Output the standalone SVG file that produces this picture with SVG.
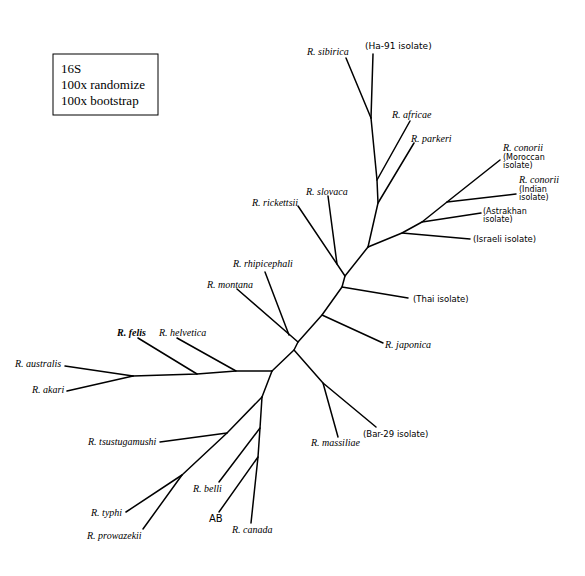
<svg xmlns="http://www.w3.org/2000/svg" width="585" height="576" viewBox="0 0 585 576">
<style>
.e{fill:none;stroke:#000;stroke-width:1.5;stroke-linecap:round;stroke-linejoin:round}
.i{font-family:"Liberation Serif","Times New Roman",serif;font-style:italic;font-size:10px;fill:#000}
.s{font-family:"DejaVu Sans","Liberation Sans",sans-serif;font-size:8.5px;fill:#000}
.t{font-family:"DejaVu Sans","Liberation Sans",sans-serif;font-size:8px;fill:#000}
.b{font-family:"Liberation Serif","Times New Roman",serif;font-size:13px;fill:#000}
</style>
<rect x="0" y="0" width="585" height="576" fill="#fff"/>
<g id="legend">
<rect x="53" y="54" width="105" height="61" fill="#fff" stroke="#000" stroke-width="1"/>
<text class="b" x="61" y="73">16S</text>
<text class="b" x="61" y="89">100x randomize</text>
<text class="b" x="61" y="105">100x bootstrap</text>
</g>
<g id="connectors">
<path class="e" d="M373,54 L371,118"/>
<path class="e" d="M346,58 L371,118"/>
<path class="e" d="M371,118 L377,180 L378,203 L368,247"/>
<path class="e" d="M410,121 L377,180"/>
<path class="e" d="M414,143 L378,203"/>
<path class="e" d="M368,247 L402,233 L422,222 L447,202 L500,160"/>
<path class="e" d="M402,233 L470,239"/>
<path class="e" d="M422,222 L481,213"/>
<path class="e" d="M447,202 L516,194"/>
<path class="e" d="M368,247 L345,276 L342,287 L322,315 L298,342 L294,350 L272,371"/>
<path class="e" d="M298,206 L345,276"/>
<path class="e" d="M328,196 L337,264"/>
<path class="e" d="M342,287 L408,298"/>
<path class="e" d="M322,315 L383,343"/>
<path class="e" d="M237,289 L298,342"/>
<path class="e" d="M265,272 L289,335"/>
<path class="e" d="M294,350 L323,383 L376,427"/>
<path class="e" d="M323,383 L338,437"/>
<path class="e" d="M272,371 L236,371 L197,374 L133,376"/>
<path class="e" d="M177,338 L236,371"/>
<path class="e" d="M138,338 L197,374"/>
<path class="e" d="M65,366 L133,376"/>
<path class="e" d="M67,391 L133,376"/>
<path class="e" d="M272,371 L262,397"/>
<path class="e" d="M262,397 L227,433 L182,475 L126,512"/>
<path class="e" d="M143,529 L182,475"/>
<path class="e" d="M160,442 L227,433"/>
<path class="e" d="M262,397 L260,428 L258,457 L251,523"/>
<path class="e" d="M219,482 L260,428"/>
<path class="e" d="M219,512 L258,457"/>
</g>
<g id="n-sibirica"><text class="i" x="307" y="55">R. sibirica</text></g>
<g id="n-ha91"><text class="s" x="365" y="49" style="font-size:9px">(Ha-91 isolate)</text></g>
<g id="n-africae"><text class="i" x="392" y="118">R. africae</text></g>
<g id="n-parkeri"><text class="i" x="411" y="142">R. parkeri</text></g>
<g id="n-moroccan"><text x="503" y="151"><tspan class="i">R. conorii</tspan><tspan class="t" x="503" y="159.5">(Moroccan</tspan><tspan class="t" x="503" y="167.5">isolate)</tspan></text></g>
<g id="n-indian"><text x="519" y="183"><tspan class="i">R. conorii</tspan><tspan class="t" x="519" y="191.5">(Indian</tspan><tspan class="t" x="519" y="199.5">isolate)</tspan></text></g>
<g id="n-astrakhan"><text class="t" x="483" y="214">(Astrakhan<tspan x="483" y="222">isolate)</tspan></text></g>
<g id="n-israeli"><text class="s" x="473" y="242">(Israeli isolate)</text></g>
<g id="n-slovaca"><text class="i" x="306" y="195">R. slovaca</text></g>
<g id="n-rickettsii"><text class="i" x="252" y="206">R. rickettsii</text></g>
<g id="n-thai"><text class="s" x="413" y="302">(Thai isolate)</text></g>
<g id="n-japonica"><text class="i" x="385" y="348">R. japonica</text></g>
<g id="n-rhipicephali"><text class="i" x="233" y="267">R. rhipicephali</text></g>
<g id="n-montana"><text class="i" x="207" y="288">R. montana</text></g>
<g id="n-felis"><text class="i" x="117" y="336" style="font-weight:bold">R. felis</text></g>
<g id="n-helvetica"><text class="i" x="159" y="336">R. helvetica</text></g>
<g id="n-australis"><text class="i" x="15" y="367">R. australis</text></g>
<g id="n-akari"><text class="i" x="32" y="393">R. akari</text></g>
<g id="n-massiliae"><text class="i" x="311" y="446">R. massiliae</text></g>
<g id="n-bar29"><text class="s" x="363" y="437">(Bar-29 isolate)</text></g>
<g id="n-tsutsugamushi"><text class="i" x="88" y="445">R. tsustugamushi</text></g>
<g id="n-typhi"><text class="i" x="91" y="516">R. typhi</text></g>
<g id="n-prowazekii"><text class="i" x="87" y="539">R. prowazekii</text></g>
<g id="n-belli"><text class="i" x="193" y="492">R. belli</text></g>
<g id="n-ab"><text class="s" x="209" y="522" style="font-size:10px">AB</text></g>
<g id="n-canada"><text class="i" x="232" y="533">R. canada</text></g>
</svg>
